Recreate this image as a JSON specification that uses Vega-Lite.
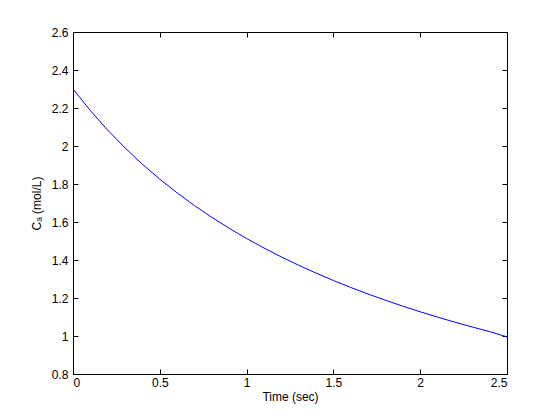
{
  "$schema": "https://vega.github.io/schema/vega-lite/v6.json",
  "width": 434,
  "height": 342,
  "autosize": {"type": "none"},
  "padding": {"left": 73, "top": 32, "right": 53, "bottom": 46},
  "background": "white",
  "config": {
    "view": {"stroke": "black", "strokeWidth": 1},
    "font": "Liberation Sans",
    "axis": {
      "domain": false,
      "grid": false,
      "tickColor": "black",
      "tickSize": -5,
      "labelFont": "Liberation Sans",
      "labelFontSize": 12,
      "labelColor": "black",
      "titleFont": "Liberation Sans",
      "titleFontSize": 12,
      "titleFontWeight": "normal",
      "titleColor": "black"
    }
  },
  "data": {
    "values": [
      {"t": 0.0, "ca": 2.3},
      {"t": 0.1, "ca": 2.1863},
      {"t": 0.2, "ca": 2.0833},
      {"t": 0.3, "ca": 1.9896},
      {"t": 0.4, "ca": 1.904},
      {"t": 0.5, "ca": 1.8254},
      {"t": 0.6, "ca": 1.753},
      {"t": 0.7, "ca": 1.6862},
      {"t": 0.8, "ca": 1.6243},
      {"t": 0.9, "ca": 1.5667},
      {"t": 1.0, "ca": 1.5131},
      {"t": 1.1, "ca": 1.4631},
      {"t": 1.2, "ca": 1.4162},
      {"t": 1.3, "ca": 1.3723},
      {"t": 1.4, "ca": 1.331},
      {"t": 1.5, "ca": 1.2921},
      {"t": 1.6, "ca": 1.2554},
      {"t": 1.7, "ca": 1.2208},
      {"t": 1.8, "ca": 1.188},
      {"t": 1.9, "ca": 1.1569},
      {"t": 2.0, "ca": 1.1274},
      {"t": 2.1, "ca": 1.0994},
      {"t": 2.2, "ca": 1.0727},
      {"t": 2.3, "ca": 1.0473},
      {"t": 2.4, "ca": 1.0231},
      {"t": 2.5, "ca": 0.995}
    ]
  },
  "layer": [
    {
      "mark": {"type": "line", "color": "#0000ff", "strokeWidth": 1},
      "encoding": {
        "x": {
          "field": "t", "type": "quantitative",
          "scale": {"domain": [0, 2.5], "nice": false, "zero": false},
          "axis": {"values": [0, 0.5, 1, 1.5, 2, 2.5], "format": "~g", "title": "Time (sec)", "labelPadding": 8, "titlePadding": 3}
        },
        "y": {
          "field": "ca", "type": "quantitative",
          "scale": {"domain": [0.8, 2.6], "nice": false, "zero": false},
          "axis": {"values": [0.8, 1, 1.2, 1.4, 1.6, 1.8, 2, 2.2, 2.4, 2.6], "format": "~g", "title": "Cₐ (mol/L)", "labelPadding": 10, "titlePadding": 8}
        }
      }
    },
    {
      "mark": {"type": "line", "opacity": 0},
      "encoding": {
        "x": {
          "field": "t", "type": "quantitative",
          "axis": {"orient": "top", "values": [0, 0.5, 1, 1.5, 2, 2.5], "labels": false, "title": null}
        },
        "y": {
          "field": "ca", "type": "quantitative",
          "axis": {"orient": "right", "values": [0.8, 1, 1.2, 1.4, 1.6, 1.8, 2, 2.2, 2.4, 2.6], "labels": false, "title": null}
        }
      }
    }
  ],
  "resolve": {"axis": {"x": "independent", "y": "independent"}}
}
